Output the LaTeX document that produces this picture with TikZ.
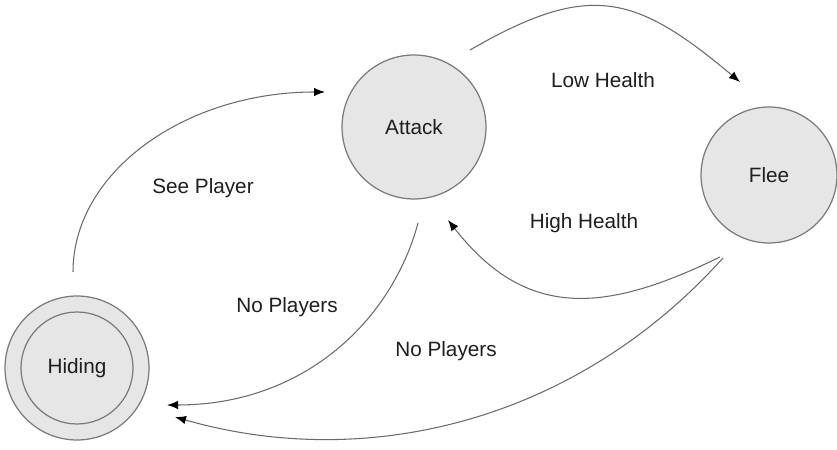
\documentclass[tikz,border=0pt]{standalone}
\usepackage{fontspec}
\setmainfont{Liberation Sans}
\usetikzlibrary{arrows.meta}

\definecolor{statefill}{HTML}{E6E6E6}
\definecolor{stateline}{HTML}{7A7A7A}
\definecolor{edgeline}{HTML}{6A6A6A}
\definecolor{labeltext}{HTML}{1E1E1E}

\begin{document}
\begin{tikzpicture}[x=0.02cm,y=0.02cm,
  state/.style={circle, draw=stateline, fill=statefill, line width=0.7pt, inner sep=0pt, outer sep=0pt,
    minimum size=2.88cm, font=\fontsize{11.8}{14}\selectfont, text=labeltext},
  trans/.style={draw=edgeline, line width=0.6pt, -{Latex[length=2.2mm,width=1.7mm,color=black]}},
  lbl/.style={font=\fontsize{11.8}{14}\selectfont, text=labeltext}]
\useasboundingbox (0,0) rectangle (837,449);

% states
\node[state] (hidingout) at (77,81) {};
\node[state, minimum size=2.24cm] (hiding) at (hidingout) {Hiding};
\foreach \nm/\px/\py/\sz/\txt in {attack/414/322/2.88cm/Attack, flee/769/274/2.72cm/Flee}{
  \node[state, minimum size=\sz] (\nm) at (\px,\py) {\txt};}

% transitions
\draw[trans] ([shift={(-4,96)}]hidingout.center) to[out=90, in=180, out distance=2cm, in distance=2.8cm] ([shift={(-89,35)}]attack.center);
\draw[trans] ([shift={(56,77)}]attack.center) to[out=30, in=140, distance=2.75cm] ([shift={(-29,93)}]flee.center);
\draw[trans] ([shift={(-49,-82)}]flee.center) to[out=206, in=-52, distance=2.55cm] ([shift={(34,-93)}]attack.center);
\draw[trans] ([shift={(4,-96)}]attack.center) to[out=255, in=0, out distance=2cm, in distance=2.76cm] ([shift={(90,-37)}]hidingout.center);
\draw[trans] ([shift={(-46,-83)}]flee.center) to[out=228, in=-16, out distance=4.4cm, in distance=4cm] ([shift={(98,-49)}]hidingout.center);

% labels
\node[lbl] (seeplayer) at (203,261) {See Player};
\node[lbl] (lowhealth) at (603,369) {Low Health};
\node[lbl] (highhealth) at (584,226) {High Health};
\node[lbl] (noplayersa) at (287,142) {No Players};
\node[lbl] (noplayersb) at (446,98) {No Players};
\end{tikzpicture}
\end{document}
